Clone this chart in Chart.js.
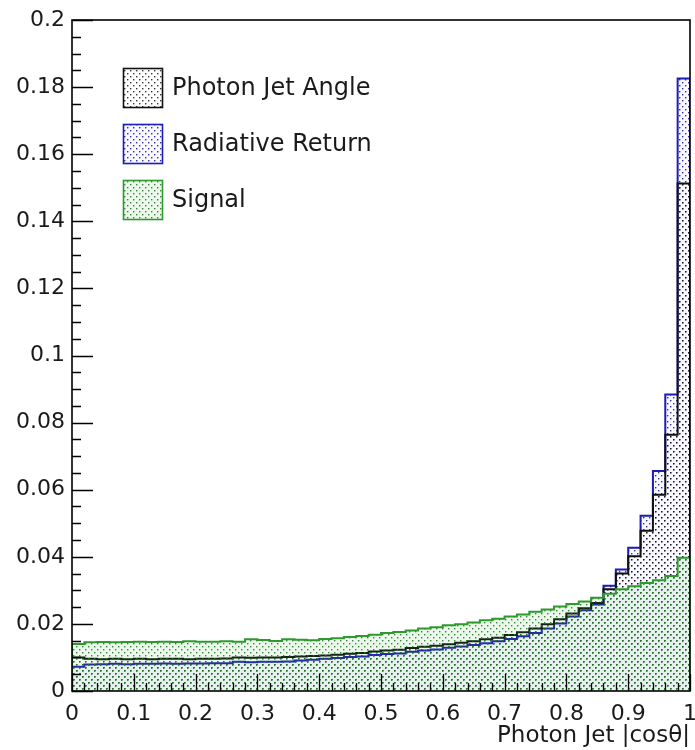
<!DOCTYPE html>
<html>
<head>
<meta charset="utf-8">
<script src="https://cdn.jsdelivr.net/npm/chart.js@4.4.1/dist/chart.umd.min.js"></script>
<style>
  html, body { margin: 0; padding: 0; background: #ffffff; }
  canvas { display: block; }
</style>
</head>
<body>
<canvas id="c" width="695" height="750"></canvas>
<script>
// Lower edges of the 50 |cos theta| bins
const binLowEdges = [
  0.00, 0.02, 0.04, 0.06, 0.08, 0.10, 0.12, 0.14, 0.16, 0.18,
  0.20, 0.22, 0.24, 0.26, 0.28, 0.30, 0.32, 0.34, 0.36, 0.38,
  0.40, 0.42, 0.44, 0.46, 0.48, 0.50, 0.52, 0.54, 0.56, 0.58,
  0.60, 0.62, 0.64, 0.66, 0.68, 0.70, 0.72, 0.74, 0.76, 0.78,
  0.80, 0.82, 0.84, 0.86, 0.88, 0.90, 0.92, 0.94, 0.96, 0.98
];
const binUpperEdge = 1.0;

// Normalised bin contents
const photonJetAngle = [
  0.0100, 0.0096, 0.0095, 0.0096, 0.0095, 0.0096, 0.0095, 0.0096, 0.0096, 0.0095,
  0.0096, 0.0096, 0.0097, 0.0100, 0.0099, 0.0100, 0.0100, 0.0101, 0.0103, 0.0104,
  0.0106, 0.0108, 0.0111, 0.0113, 0.0118, 0.0121, 0.0123, 0.0128, 0.0132, 0.0135,
  0.0139, 0.0144, 0.0148, 0.0154, 0.0159, 0.0167, 0.0175, 0.0186, 0.0199, 0.0214,
  0.0231, 0.0247, 0.0262, 0.0303, 0.0350, 0.0402, 0.0478, 0.0585, 0.0764, 0.1513
];
const radiativeReturn = [
  0.0072, 0.0079, 0.0080, 0.0081, 0.0080, 0.0081, 0.0081, 0.0082, 0.0081, 0.0082,
  0.0082, 0.0083, 0.0083, 0.0087, 0.0086, 0.0087, 0.0087, 0.0088, 0.0091, 0.0093,
  0.0096, 0.0098, 0.0101, 0.0103, 0.0107, 0.0110, 0.0112, 0.0117, 0.0121, 0.0124,
  0.0129, 0.0133, 0.0137, 0.0142, 0.0148, 0.0155, 0.0163, 0.0173, 0.0186, 0.0201,
  0.0222, 0.0241, 0.0258, 0.0314, 0.0362, 0.0427, 0.0522, 0.0656, 0.0884, 0.1826
];
const signal = [
  0.0140, 0.0145, 0.0146, 0.0145, 0.0146, 0.0147, 0.0146, 0.0147, 0.0146, 0.0148,
  0.0147, 0.0147, 0.0148, 0.0147, 0.0154, 0.0152, 0.0149, 0.0154, 0.0153, 0.0151,
  0.0155, 0.0157, 0.0161, 0.0164, 0.0168, 0.0173, 0.0176, 0.0180, 0.0186, 0.0190,
  0.0196, 0.0199, 0.0204, 0.0211, 0.0215, 0.0222, 0.0228, 0.0236, 0.0243, 0.0252,
  0.0259, 0.0267, 0.0278, 0.0290, 0.0303, 0.0312, 0.0322, 0.0330, 0.0343, 0.0397
];

// Axis tick labels
const xTickValues = [0, 0.1, 0.2, 0.3, 0.4, 0.5, 0.6, 0.7, 0.8, 0.9, 1];
const xTickLabels = ['0', '0.1', '0.2', '0.3', '0.4', '0.5', '0.6', '0.7', '0.8', '0.9', '1'];
const yTickValues = [0, 0.02, 0.04, 0.06, 0.08, 0.1, 0.12, 0.14, 0.16, 0.18, 0.2];
const yTickLabels = ['0', '0.02', '0.04', '0.06', '0.08', '0.1', '0.12', '0.14', '0.16', '0.18', '0.2'];

const seriesNames = ['Photon Jet Angle', 'Radiative Return', 'Signal'];
const xTitle = 'Photon Jet |cos\u03B8|';

const FONT = '"DejaVu Sans", "Liberation Sans", Arial, sans-serif';
const TEXT_COLOR = '#1a1a1a';
const COLORS = {
  black: '#111111',
  blue: '#1c1cb8',
  green: '#2e9a2e'
};

// Sparse dotted fill, like a ROOT fill style
function dotPattern(dotColor, tint) {
  const s = 6;
  const pc = document.createElement('canvas');
  pc.width = s; pc.height = s;
  const g = pc.getContext('2d');
  if (tint) { g.fillStyle = tint; g.fillRect(0, 0, s, s); }
  g.fillStyle = dotColor;
  g.fillRect(1, 1, 1.4, 1.4);
  g.fillRect(4, 4, 1.4, 1.4);
  return g.createPattern(pc, 'repeat');
}

// Step histogram outline: bins hold their value across their width
function histPoints(values) {
  const pts = [{ x: binLowEdges[0], y: 0 }];
  values.forEach((v, i) => pts.push({ x: binLowEdges[i], y: v }));
  pts.push({ x: binUpperEdge, y: values[values.length - 1] });
  pts.push({ x: binUpperEdge, y: 0 });
  return pts;
}

const fills = {
  black: dotPattern('rgba(20,20,20,0.85)', null),
  blue: dotPattern('rgba(30,30,150,0.9)', 'rgba(40,40,220,0.03)'),
  green: dotPattern('rgba(40,120,40,0.9)', 'rgba(70,190,70,0.10)')
};

// Inward ticks, frame and in-frame legend
const decorations = {
  id: 'decorations',
  afterDraw(chart) {
    const ctx = chart.ctx;
    const a = chart.chartArea;
    const xs = chart.scales.x, ys = chart.scales.y;
    ctx.save();
    ctx.strokeStyle = '#000';
    ctx.lineWidth = 1.3;
    ctx.beginPath();
    for (let k = 0; k <= 50; k++) {
      const v = k * 0.02;
      const px = Math.round(xs.getPixelForValue(v)) + 0.5;
      const len = (k % 5 === 0) ? 17 : 8;
      ctx.moveTo(px, a.bottom);
      ctx.lineTo(px, a.bottom - len);
    }
    for (let k = 0; k <= 40; k++) {
      const v = k * 0.005;
      const py = Math.round(ys.getPixelForValue(v)) + 0.5;
      const len = (k % 4 === 0) ? 21 : 9;
      ctx.moveTo(a.left, py);
      ctx.lineTo(a.left + len, py);
    }
    ctx.stroke();
    ctx.lineWidth = 1.6;
    ctx.strokeRect(a.left, a.top, a.right - a.left, a.bottom - a.top);

    // legend
    const rows = [
      { name: seriesNames[0], color: COLORS.black, fill: fills.black, y: 68 },
      { name: seriesNames[1], color: COLORS.blue, fill: fills.blue, y: 124 },
      { name: seriesNames[2], color: COLORS.green, fill: fills.green, y: 180 }
    ];
    ctx.font = '24px ' + FONT;
    ctx.textBaseline = 'middle';
    ctx.textAlign = 'left';
    rows.forEach(r => {
      ctx.fillStyle = '#ffffff';
      ctx.fillRect(123, r.y, 40, 40);
      ctx.fillStyle = r.fill;
      ctx.fillRect(123, r.y, 40, 40);
      ctx.strokeStyle = r.color;
      ctx.lineWidth = 1.6;
      ctx.strokeRect(123.5, r.y + 0.5, 39, 39);
      ctx.fillStyle = TEXT_COLOR;
      ctx.fillText(r.name, 172, r.y + 21);
    });
    ctx.restore();
  }
};

function dataset(label, values, color, fill, order) {
  return {
    label,
    data: histPoints(values),
    borderColor: color,
    borderWidth: 2,
    backgroundColor: fill,
    fill: 'origin',
    stepped: true,
    pointRadius: 0,
    tension: 0,
    order
  };
}

new Chart(document.getElementById('c'), {
  type: 'line',
  data: {
    datasets: [
      dataset(seriesNames[1], radiativeReturn, COLORS.blue, fills.blue, 3),
      dataset(seriesNames[0], photonJetAngle, COLORS.black, fills.black, 2),
      dataset(seriesNames[2], signal, COLORS.green, fills.green, 1)
    ]
  },
  options: {
    responsive: false,
    animation: false,
    devicePixelRatio: 1,
    layout: { padding: { top: 20, right: 5, left: 0, bottom: 0 } },
    plugins: { legend: { display: false }, tooltip: { enabled: false } },
    scales: {
      x: {
        type: 'linear',
        min: 0, max: 1,
        grid: { display: false, drawTicks: false },
        border: { display: false },
        afterBuildTicks: s => { s.ticks = xTickValues.map(v => ({ value: v })); },
        afterFit: s => { s.height = 59; s.paddingLeft = 0; s.paddingRight = 0; },
        ticks: {
          autoSkip: false,
          maxRotation: 0,
          padding: 10,
          color: TEXT_COLOR,
          font: { family: FONT, size: 22 },
          callback: (v, i) => xTickLabels[i]
        },
        title: {
          display: true,
          text: xTitle,
          align: 'end',
          color: TEXT_COLOR,
          font: { family: FONT, size: 23 },
          padding: { top: 0, bottom: 0 }
        }
      },
      y: {
        type: 'linear',
        min: 0, max: 0.2,
        grid: { display: false, drawTicks: false },
        border: { display: false },
        afterBuildTicks: s => { s.ticks = yTickValues.map(v => ({ value: v })); },
        afterFit: s => { s.width = 72; s.paddingTop = 0; s.paddingBottom = 0; },
        ticks: {
          autoSkip: false,
          padding: 7,
          color: TEXT_COLOR,
          font: { family: FONT, size: 22 },
          callback: (v, i) => yTickLabels[i]
        }
      }
    }
  },
  plugins: [decorations]
});
</script>
</body>
</html>
